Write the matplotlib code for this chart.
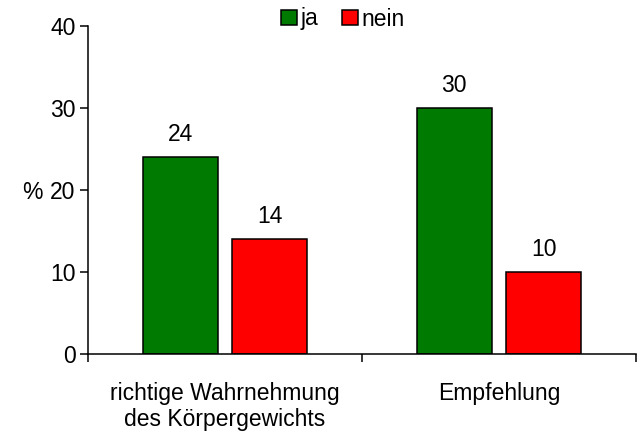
import numpy as np
import matplotlib
matplotlib.use("Agg")
import matplotlib.pyplot as plt

categories = ["richtige Wahrnehmung\ndes Körpergewichts", "Empfehlung"]
series_names = ["ja", "nein"]
ja_values = [24, 30]
nein_values = [14, 10]
y_ticks = [0, 10, 20, 30, 40]

plt.rcParams["font.family"] = ["Liberation Sans", "DejaVu Sans"]
FS = 16.5

fig = plt.figure(figsize=(6.38, 4.32), dpi=100)
ax = fig.add_axes([88 / 638, 1 - 354 / 432, (636 - 88) / 638, (354 - 26) / 432])

x = np.arange(len(categories))
width = 0.274
off = 0.164
b1 = ax.bar(x - off, ja_values, width, color="#007A00", edgecolor="black",
            linewidth=1.1, label=series_names[0])
b2 = ax.bar(x + off, nein_values, width, color="#FF0000", edgecolor="black",
            linewidth=1.1, label=series_names[1])

for bars, vals in [(b1, ja_values), (b2, nein_values)]:
    for r, v in zip(bars, vals):
        ax.annotate(str(v), (r.get_x() + r.get_width() / 2, v),
                    xytext=(0, 11.5), textcoords="offset points",
                    ha="center", va="baseline", fontsize=FS)

ax.set_xlim(-0.5, len(categories) - 0.5)
ax.set_ylim(0, 40)
ax.set_yticks(y_ticks)
ax.tick_params(axis="y", length=6, width=1.1, pad=3, labelsize=FS)

ax.set_xticks(x)
ax.set_xticklabels(categories, fontsize=FS, linespacing=1.2)
ax.tick_params(axis="x", which="major", length=0, pad=20)
ax.set_xticks(np.arange(len(categories) + 1) - 0.5, minor=True)
ax.tick_params(axis="x", which="minor", length=6, width=1.1, direction="out")

ax.set_ylabel("%", rotation=0, fontsize=FS, va="center_baseline", ha="right",
              labelpad=5)

for s in ["top", "right"]:
    ax.spines[s].set_visible(False)
for s in ["left", "bottom"]:
    ax.spines[s].set_linewidth(1.1)

ax.legend(loc="center", bbox_to_anchor=(343 / 638, 1 - 19 / 432),
          bbox_transform=fig.transFigure, ncol=2, frameon=False, fontsize=FS,
          handlelength=0.68, handleheight=0.68, handletextpad=0.17,
          columnspacing=1.05, borderpad=0)

fig.savefig("out.png", dpi=100)
